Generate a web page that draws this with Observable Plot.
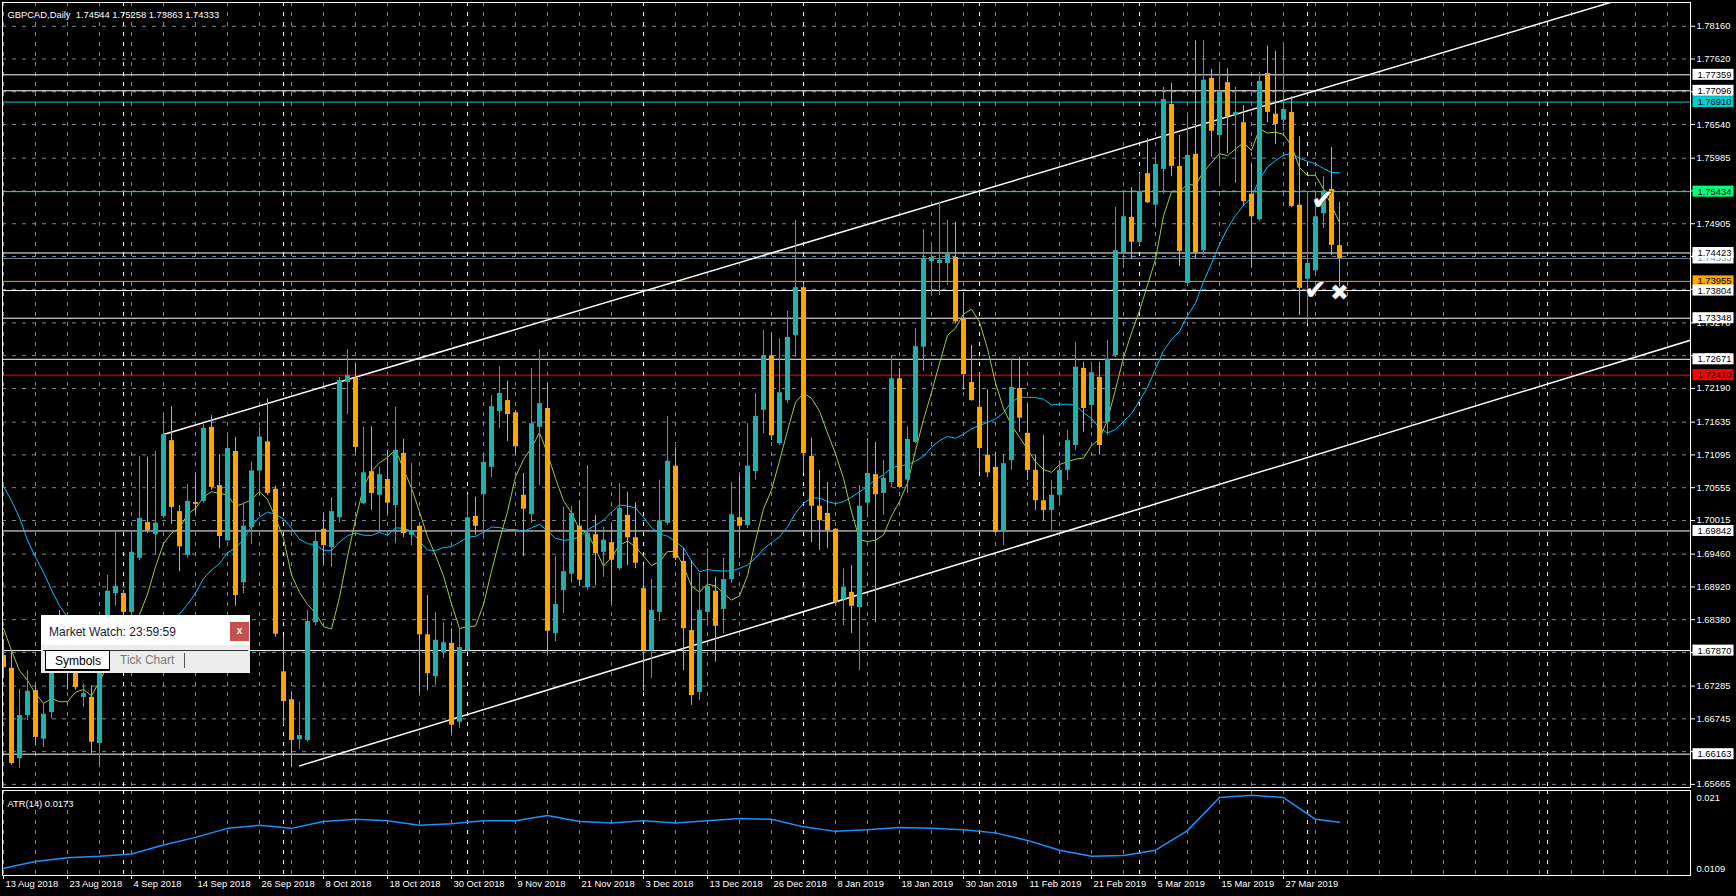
<!DOCTYPE html>
<html><head><meta charset="utf-8">
<script src="https://cdn.jsdelivr.net/npm/d3@7"></script>
<script src="https://cdn.jsdelivr.net/npm/@observablehq/plot@0.6"></script>
<style>
html,body{margin:0;padding:0;background:#000;}
#wrap{position:relative;width:1736px;height:896px;overflow:hidden;background:#000;}
#wrap svg{display:block;}
#mw{position:absolute;left:41px;top:615px;width:209px;height:58px;background:#ececec;font-family:"Liberation Sans",Arial,sans-serif;}
#mw .title{position:absolute;left:0;top:0;width:209px;height:30px;background:#fff;}
#mw .title span{position:absolute;left:8px;top:10px;font-size:12px;color:#1a1a2a;}
#mw .close{position:absolute;left:189px;top:7px;width:19px;height:19px;background:#c75050;color:#fff;font-size:10px;text-align:center;line-height:18px;font-weight:bold;}
#mw .line{position:absolute;left:2px;top:35px;width:205px;height:1px;background:#333;}
#mw .tab{position:absolute;left:4px;top:35px;width:63px;height:18px;background:#fff;border:1px solid #000;border-bottom:2px solid #000;}
#mw .tab span{position:absolute;left:9px;top:3px;font-size:12px;color:#000;}
#mw .t2{position:absolute;left:79px;top:38px;font-size:12px;color:#7a7a7a;}
#mw .sep{position:absolute;left:143px;top:38px;width:1px;height:15px;background:#555;}
</style></head><body><div id="wrap"></div>
<script>
// ---- data ----
const symbol = "GBPCAD", period = "Daily";
const open = [1.6779,1.6758,1.6609,1.6680,1.6721,1.6641,1.6685,1.6790,1.6790,1.6760,
1.6710,1.6710,1.6634,1.6837,1.6881,1.6881,1.6850,1.6939,1.6998,1.6978,
1.7008,1.7133,1.7016,1.6944,1.7031,1.7033,1.7155,1.7059,1.6968,1.7115,
1.6899,1.6990,1.7083,1.7131,1.7053,1.6752,1.6706,1.6640,1.6639,1.6833,
1.6987,1.6957,1.7006,1.7229,1.7236,1.7029,1.7082,1.7043,1.7069,1.7026,
1.7112,1.6977,1.6992,1.6813,1.6744,1.6784,1.6799,1.6669,1.6787,1.7008,
1.7044,1.7089,1.7181,1.7199,1.7179,1.7043,1.7011,1.7155,1.7186,1.6815,
1.6886,1.6913,1.6992,1.6891,1.6978,1.6949,1.6965,1.6922,1.7010,1.6973,
1.6889,1.6787,1.6850,1.6997,1.7091,1.6934,1.6820,1.6718,1.6850,1.6885,
1.6855,1.6904,1.7006,1.6993,1.7082,1.7183,1.7273,1.7128,1.7199,1.7306,
1.7385,1.7107,1.7025,1.7013,1.6987,1.6871,1.6883,1.6858,1.7030,1.7077,
1.7046,1.7064,1.7235,1.7068,1.7130,1.7287,1.7428,1.7425,1.7425,1.7435,
1.7333,1.7229,1.7188,1.7109,1.7089,1.6982,1.7100,1.7219,1.7145,1.7084,
1.7034,1.7018,1.7043,1.7084,1.7125,1.7252,1.7191,1.7237,1.7163,1.7273,
1.7443,1.7501,1.7460,1.7573,1.7521,1.7580,1.7687,1.7585,1.7392,1.7605,
1.7446,1.7730,1.7636,1.7723,1.7669,1.7657,1.7539,1.7497,1.7738,1.7671,
1.7661,1.7674,1.7521,1.7399,1.7413,1.7507,1.7547,1.74544];
const high = [1.6805,1.6787,1.6723,1.6754,1.6729,1.6700,1.6784,1.6853,1.6815,1.6790,
1.6732,1.6729,1.6850,1.6911,1.6983,1.6886,1.6982,1.7107,1.7106,1.7115,
1.7174,1.7189,1.7026,1.7061,1.7078,1.7160,1.7174,1.7110,1.7145,1.7138,
1.7030,1.7098,1.7155,1.7202,1.7058,1.6810,1.6719,1.6702,1.6853,1.6983,
1.7012,1.7039,1.7237,1.7283,1.7260,1.7155,1.7156,1.7089,1.7117,1.7188,
1.7135,1.7095,1.6993,1.6878,1.6850,1.6833,1.6823,1.6823,1.7043,1.7040,
1.7112,1.7207,1.7255,1.7231,1.7183,1.7079,1.7252,1.7283,1.7228,1.6942,
1.7023,1.7025,1.7034,1.7092,1.7010,1.6990,1.6995,1.7062,1.7048,1.7031,
1.6927,1.6904,1.7068,1.7173,1.7122,1.6955,1.6935,1.6914,1.6955,1.6908,
1.6939,1.7064,1.7074,1.7161,1.7211,1.7315,1.7310,1.7301,1.7346,1.7496,
1.7392,1.7137,1.7084,1.7064,1.6988,1.6922,1.6927,1.7059,1.7137,1.7130,
1.7100,1.7273,1.7252,1.7156,1.7318,1.7481,1.7458,1.7526,1.7496,1.7493,
1.7377,1.7290,1.7244,1.7217,1.7114,1.7110,1.7268,1.7270,1.7193,1.7109,
1.7142,1.7067,1.7100,1.7150,1.7295,1.7262,1.7262,1.7262,1.7298,1.7517,
1.7540,1.7550,1.7573,1.7631,1.7606,1.7715,1.7722,1.7636,1.7667,1.7792,
1.7792,1.7745,1.7755,1.7746,1.7715,1.7685,1.7588,1.7740,1.7783,1.7775,
1.7789,1.7700,1.7634,1.7542,1.7539,1.7568,1.7616,1.75258];
const low = [1.6741,1.6598,1.6593,1.6672,1.6631,1.6627,1.6675,1.6758,1.6722,1.6722,
1.6693,1.6617,1.6594,1.6793,1.6860,1.6840,1.6845,1.6935,1.6980,1.6944,
1.7005,1.6995,1.6917,1.6939,1.7011,1.7030,1.7051,1.6955,1.6967,1.6860,
1.6881,1.6962,1.7046,1.7043,1.6809,1.6664,1.6594,1.6624,1.6636,1.6828,
1.6927,1.6924,1.6997,1.7176,1.7112,1.7028,1.7018,1.6985,1.7013,1.6963,
1.6973,1.6960,1.6716,1.6721,1.6730,1.6774,1.6650,1.6659,1.6784,1.6977,
1.6970,1.7072,1.7153,1.7132,1.7110,1.6942,1.6997,1.7059,1.6782,1.6802,
1.6848,1.6898,1.6894,1.6886,1.6894,1.6908,1.6866,1.6919,1.6927,1.6922,
1.6720,1.6741,1.6835,1.6993,1.6935,1.6754,1.6697,1.6705,1.6832,1.6768,
1.6815,1.6898,1.6939,1.6988,1.7068,1.7145,1.7133,1.7125,1.7194,1.7270,
1.7079,1.6965,1.6952,1.6955,1.6863,1.6828,1.6815,1.6754,1.7006,1.6833,
1.7010,1.7056,1.7054,1.7046,1.7128,1.7247,1.7372,1.7372,1.7389,1.7326,
1.7216,1.7198,1.7080,1.7072,1.6980,1.6960,1.7084,1.7147,1.7067,1.7018,
1.7001,1.6985,1.7026,1.7067,1.7117,1.7147,1.7153,1.7109,1.7142,1.7270,
1.7417,1.7432,1.7455,1.7524,1.7484,1.7540,1.7568,1.7420,1.7389,1.7433,
1.7438,1.7600,1.7553,1.7606,1.7557,1.7519,1.7417,1.7494,1.7657,1.7621,
1.7643,1.7517,1.7339,1.7326,1.7410,1.7483,1.7438,1.73863];
const close = [1.6759,1.6601,1.6680,1.6720,1.6644,1.6682,1.6771,1.6765,1.6760,1.6726,
1.6716,1.6636,1.6837,1.6885,1.6893,1.6850,1.6949,1.7005,1.6985,1.6997,
1.7143,1.7023,1.6958,1.7033,1.7028,1.7153,1.7056,1.6975,1.7120,1.6878,
1.6992,1.7083,1.7139,1.7046,1.6814,1.6703,1.6639,1.6647,1.6835,1.6967,
1.6960,1.7016,1.7232,1.7240,1.7122,1.7080,1.7046,1.7077,1.7030,1.7117,
1.6980,1.6985,1.6813,1.6749,1.6804,1.6800,1.6664,1.6792,1.7006,1.6992,
1.7097,1.7189,1.7211,1.7176,1.7123,1.7020,1.7161,1.7194,1.6819,1.6863,
1.6917,1.7013,1.6903,1.6980,1.6947,1.6969,1.6936,1.7021,1.6973,1.6931,
1.6787,1.6853,1.7001,1.7099,1.6939,1.6823,1.6713,1.6853,1.6893,1.6827,
1.6904,1.7011,1.6992,1.7091,1.7173,1.7273,1.7141,1.7212,1.7303,1.7385,
1.7112,1.7025,1.7001,1.6985,1.6866,1.6891,1.6860,1.7025,1.7079,1.7044,
1.7071,1.7235,1.7056,1.7135,1.7288,1.7433,1.7435,1.7430,1.7441,1.7329,
1.7242,1.7199,1.7120,1.7080,1.6982,1.7095,1.7221,1.7170,1.7084,1.7034,
1.7018,1.7043,1.7084,1.7133,1.7254,1.7186,1.7245,1.7125,1.7267,1.7446,
1.7502,1.7460,1.7544,1.7525,1.7588,1.7695,1.7585,1.7445,1.7603,1.7443,
1.7727,1.7643,1.7708,1.7667,1.7674,1.7527,1.7502,1.7725,1.7674,1.7654,
1.7679,1.7519,1.7384,1.7425,1.7502,1.7544,1.7455,1.74333];
// moving averages visible before a full window exists
const maFastStart = [1.6824,1.6787,1.6754,1.6738,1.6716,1.6700,1.6708];
const maSlowStart = [1.7058,1.7034,1.7006,1.6969,1.6941,1.6916,1.6887,1.6861,1.6842,1.6827,
1.6817,1.6809,1.6804,1.6799,1.6796,1.6792,1.6791,1.6791,1.6791];
const maFastPeriod = 8, maSlowPeriod = 20;
// ATR(14) read from the sub-window
const atrBars = [0,4,8,12,16,20,24,28,32,36,40,44,48,52,56,60,64,68,72,76,80,84,88,92,96,100,104,108,112,116,120,124,128,132,136,140,144,148,152,156,160,164,167];
const atrValues = [0.0112,0.0121,0.0126,0.0128,0.0131,0.0143,0.0153,0.0165,0.0169,0.0165,0.0174,0.0177,0.0175,0.0169,0.0171,0.0175,0.0175,0.0182,0.0174,0.0172,0.0175,0.0172,0.0175,0.0178,0.0177,0.0167,0.0161,0.0163,0.0166,0.0165,0.0163,0.0159,0.0149,0.0136,0.0128,0.0129,0.0136,0.0162,0.0206,0.0209,0.0206,0.0177,0.0173];
const atrLabel = "ATR(14) 0.0173";
const atrTicks = [0.021, 0.0109];
// date axis
const dateTickBars = [0,8,16,24,32,40,48,56,64,72,80,88,96,104,112,120,128,136,144,152,160];
const dateTickLabels = ["13 Aug 2018","23 Aug 2018","4 Sep 2018","14 Sep 2018","26 Sep 2018","8 Oct 2018","18 Oct 2018","30 Oct 2018","9 Nov 2018","21 Nov 2018","3 Dec 2018","13 Dec 2018","26 Dec 2018","8 Jan 2019","18 Jan 2019","30 Jan 2019","11 Feb 2019","21 Feb 2019","5 Mar 2019","15 Mar 2019","27 Mar 2019"];
const monthSeparatorBars = [15,35,58,80,100,122,142,163,193];
// price axis
const priceTicks = [1.78160,1.77620,1.77080,1.76540,1.75985,1.75445,1.74905,1.74365,1.73825,1.73270,1.72730,1.72190,1.71635,1.71095,1.70555,1.70015,1.69460,1.68920,1.68380,1.67840,1.67285,1.66745,1.66205,1.65665];
// horizontal levels (draw order)
const levelPrices = [1.77359,1.77096,1.76910,1.75434,1.74333,1.74423,1.73955,1.73804,1.73348,1.72671,1.72410,1.69842,1.67870,1.66163];
const levelColors = ["#ffffff","#ffffff","#00ced1","#00fa7f","#778899","#ffffff","#ffa500","#ffffff","#ffffff","#ffffff","#ff0000","#ffffff","#ffffff","#ffffff"];
const levelBoxColors = ["#ffffff","#ffffff","#00ced1","#00ff7f","#ffffff","#ffffff","#ffa500","#ffffff","#ffffff","#ffffff","#ff0000","#ffffff","#ffffff","#ffffff"];
const levelTextColors = ["#000","#000","#000","#000","#778899","#000","#000","#000","#000","#000","#000","#000","#000","#000"];
// channel trend lines (bar, price)
const upperTrendBars = [20, 211], upperTrendPrices = [1.7143, 1.7895];
const lowerTrendBars = [37, 211], lowerTrendPrices = [1.6597, 1.7299];
// arrow objects
const signBars = [164.9, 164, 167];
const signPrices = [1.7529, 1.7382, 1.7376];
const signSymbols = ["\u2714", "\u2714", "\u2716"];
const signSizes = [28, 28, 22];

// ---- build ----
const bull = "#20b2aa", bear = "#ffa500";
const bars = open.map((o, i) => ({i, open: o, high: high[i], low: low[i], close: close[i], col: close[i] >= o ? bull : bear}));
function sma(k, start) {
  return close.map((c, i) => ({i, v: i < start.length ? start[i] : d3.mean(close.slice(i - k + 1, i + 1))}));
}
const maFast = sma(maFastPeriod, maFastStart);
const maSlow = sma(maSlowPeriod, maSlowStart);
const levels = levelPrices.map((p, k) => ({price: p, color: levelColors[k], box: levelBoxColors[k], tc: levelTextColors[k]}));
const upper = upperTrendBars.map((b, k) => ({i: b, p: upperTrendPrices[k]}));
const lower = lowerTrendBars.map((b, k) => ({i: b, p: lowerTrendPrices[k]}));
const signs = signBars.map((b, k) => ({i: b, p: signPrices[k], s: signSymbols[k], size: signSizes[k]}));
const atr = atrBars.map((b, k) => ({i: b, v: atrValues[k]}));
const dates = dateTickBars.map((b, k) => ({i: b, label: dateTickLabels[k]}));
const atrTickData = atrTicks.map((v) => ({v}));
const gridBars = d3.range(0, 211, 4);
const last = bars[bars.length - 1];
const title = `${symbol},${period}\u00a0 ${last.open.toFixed(5)} ${last.high.toFixed(5)} ${last.low.toFixed(5)} ${last.close.toFixed(5)}`;

const W = 1736;
const xDomain = [-0.125, 210.875];
const font = "'Liberation Sans', Arial, sans-serif";
const fs = "9.4px";
const dash = "4,6";
const gridColor = "#778899";

const main = Plot.plot({
  width: W, height: 789,
  marginLeft: 2, marginRight: 46, marginTop: 2, marginBottom: 2,
  x: {domain: xDomain, axis: null},
  y: {domain: [1.65614, 1.78551], axis: null},
  color: {type: "identity"},
  style: {background: "#000", color: "#fff", fontFamily: font, fontSize: fs},
  marks: [
    Plot.ruleX(gridBars, {x: d => d, stroke: gridColor, strokeDasharray: dash}),
    Plot.ruleY(priceTicks, {y: d => d, stroke: gridColor, strokeDasharray: dash}),
    Plot.ruleX(monthSeparatorBars, {x: d => d, stroke: "#fff", strokeDasharray: dash}),
    Plot.ruleY(levels, {y: "price", stroke: "color"}),
    Plot.line(upper, {x: "i", y: "p", stroke: "#fff", clip: true}),
    Plot.line(lower, {x: "i", y: "p", stroke: "#fff", clip: true}),
    Plot.line(maSlow, {x: "i", y: "v", stroke: "#00bfff", strokeWidth: 1}),
    Plot.line(maFast, {x: "i", y: "v", stroke: "#9acd32", strokeWidth: 1}),
    Plot.ruleX(bars, {x: "i", y1: "low", y2: "high", stroke: "col", clip: true}),
    Plot.ruleX(bars, {x: "i", y1: "open", y2: "close", stroke: "col", strokeWidth: 5, clip: true}),
    Plot.text(signs.slice(0, 2), {x: "i", y: "p", text: "s", fill: "#fff", stroke: "#333", strokeWidth: 1.2, paintOrder: "stroke", fontSize: signSizes[0], fontFamily: "DejaVu Sans"}),
    Plot.text(signs.slice(2), {x: "i", y: "p", text: "s", fill: "#fff", stroke: "#333", strokeWidth: 1.2, paintOrder: "stroke", fontSize: signSizes[2], fontFamily: "DejaVu Sans"}),
    Plot.frame({stroke: "#fff"}),
    Plot.text([title], {frameAnchor: "top-left", dx: 5, dy: 9, text: d => d, textAnchor: "start", fill: "#fff"}),
    Plot.axisY({anchor: "right", ticks: priceTicks, tickFormat: d => d.toFixed(5), tickSize: 4, tickPadding: 2, label: null, stroke: "#fff", fill: "#fff"}),
    Plot.text(levels, {y: "price", text: d => d.price.toFixed(5), frameAnchor: "right", dx: 7, textAnchor: "start", fill: "tc", ariaDescription: "level-labels"})
  ]
});

const sub = Plot.plot({
  width: W, height: 107,
  marginLeft: 2, marginRight: 46, marginTop: 1, marginBottom: 21,
  x: {domain: xDomain, axis: null},
  y: {domain: [0.0109, 0.021], range: [81, 5], axis: null},
  style: {background: "#000", color: "#fff", fontFamily: font, fontSize: fs},
  marks: [
    Plot.ruleX(gridBars, {x: d => d, stroke: gridColor, strokeDasharray: dash}),
    Plot.ruleX(monthSeparatorBars, {x: d => d, stroke: "#fff", strokeDasharray: dash}),
    Plot.line(atr, {x: "i", y: "v", stroke: "#1e90ff"}),
    Plot.frame({stroke: "#fff"}),
    Plot.text([atrLabel], {frameAnchor: "top-left", dx: 5, dy: 10, text: d => d, textAnchor: "start", fill: "#fff"}),
    Plot.text(atrTickData.slice(0, 1), {y: "v", text: d => String(d.v), frameAnchor: "right", dx: 6, dy: 3, textAnchor: "start", fill: "#fff"}),
    Plot.text(atrTickData.slice(1), {y: "v", text: d => String(d.v), frameAnchor: "right", dx: 6, dy: -2, textAnchor: "start", fill: "#fff"}),
    Plot.axisX({anchor: "bottom", ticks: dateTickBars, tickFormat: () => "", tickSize: 4, stroke: "#fff", label: null}),
    Plot.text(dates, {x: "i", text: "label", frameAnchor: "bottom", dy: 11, dx: 2, textAnchor: "start", fill: "#fff"})
  ]
});

const wrap = document.getElementById("wrap");
wrap.appendChild(main);
wrap.appendChild(sub);

// label boxes behind the level price texts
let g = main.querySelector('[aria-description="level-labels"]');
if (!g) { const gs = main.querySelectorAll('g[aria-label="text"]'); g = gs[gs.length - 1]; }
if (g) {
  const texts = Array.from(g.querySelectorAll("text"));
  texts.forEach((t, k) => {
    const b = t.getBBox();
    const r = document.createElementNS("http://www.w3.org/2000/svg", "rect");
    r.setAttribute("x", b.x - 5);
    r.setAttribute("y", b.y + b.height / 2 - 5.5);
    r.setAttribute("width", 41);
    r.setAttribute("height", 11);
    r.setAttribute("fill", levels[k].box);
    const tr = t.getAttribute("transform");
    if (tr) r.setAttribute("transform", tr);
    g.insertBefore(r, t);
  });
}

// Market Watch window
const mw = document.createElement("div");
mw.id = "mw";
mw.innerHTML = '<div class="title"><span>Market Watch: 23:59:59</span><div class="close">x</div></div>' +
  '<div class="line"></div><div class="tab"><span>Symbols</span></div><div class="t2">Tick Chart</div><div class="sep"></div>';
wrap.appendChild(mw);
</script>
</body></html>
